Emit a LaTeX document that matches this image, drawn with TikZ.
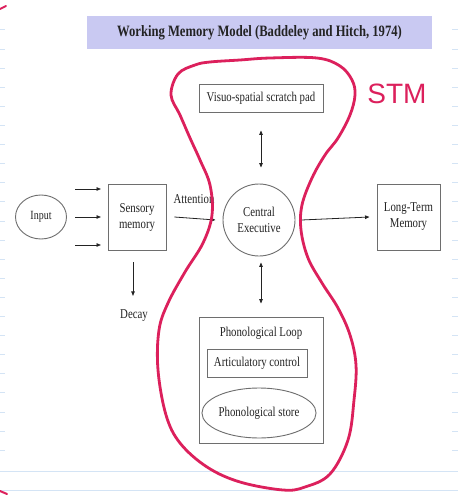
\documentclass[tikz,border=0pt]{standalone}
\usepackage{fontspec}
\setmainfont[FakeStretch=0.8]{Liberation Serif}
\newfontfamily\stmfont{Liberation Sans}
\usetikzlibrary{arrows.meta,shapes.geometric,calc}
\definecolor{lav}{RGB}{201,201,242}
\definecolor{boxgray}{RGB}{110,110,110}
\definecolor{txt}{RGB}{35,35,35}
\definecolor{pen}{RGB}{220,32,92}
\definecolor{rule}{RGB}{212,228,245}
\tikzset{
  body/.style={font=\fontsize{13.5}{15}\selectfont, text=txt},
  sqbox/.style={draw=boxgray, line width=0.9pt, rectangle, inner sep=0pt, body, align=center},
  roundbox/.style={draw=boxgray, line width=0.9pt, ellipse, inner sep=0pt, body, align=center},
  arr/.style={draw=txt, line width=0.8pt, -{Triangle[length=4.5pt,width=3.5pt]}},
  darr/.style={draw=txt, line width=0.8pt, {Triangle[length=4.5pt,width=3.5pt]}-{Triangle[length=4.5pt,width=3.5pt]}},
  label/.style={body, inner sep=0pt},
  ruleline/.style={draw=rule, line width=1pt},
}
\begin{document}
\begin{tikzpicture}[x=1pt,y=-1pt]
\useasboundingbox (0,0) rectangle (458,500);
\fill[white] (0,0) rectangle (458,500);
% notebook rules
\foreach \k in {0,...,22}{
  \draw[ruleline] (0,{30+19.1*\k}) -- (5,{30+19.1*\k});
  \draw[ruleline] (452,{30+19.1*\k}) -- (458,{30+19.1*\k});
}
\draw[ruleline] (0,471) -- (458,471);
\draw[ruleline] (0,490) -- (458,490);
% title
\node[fill=lav, minimum width=345pt, minimum height=33pt, inner sep=0pt,
      font=\bfseries\fontsize{15.8}{17}\selectfont, text=txt] (title) at (259.5,32.5)
      {Working Memory Model (Baddeley and Hitch, 1974)};
% nodes
\node[sqbox, minimum width=124pt, minimum height=28pt] (vsp) at (261,98) {Visuo-spatial scratch pad};
\node[draw=boxgray, line width=0.9pt, circle, minimum size=72pt, inner sep=0pt, body, align=center] (ce) at (259,220) {Central\\[1pt]Executive};
\node[sqbox, minimum width=124pt, minimum height=126pt] (pl) at (261,380) {};
\node[label] (plt) at (261,333) {Phonological Loop};
\node[sqbox, minimum width=100pt, minimum height=28pt] (ac) at (257,363) {Articulatory control};
\node[roundbox, minimum width=112pt, minimum height=50pt] (ps) at (259,413) {Phonological store};
\node[roundbox, minimum width=51pt, minimum height=44pt, font=\fontsize{12.5}{14}\selectfont] (inp) at (41,217) {Input};
\node[sqbox, minimum width=58pt, minimum height=66pt] (sm) at (137,217) {Sensory\\[1pt]memory};
\node[sqbox, minimum width=63pt, minimum height=66pt] (ltm) at (408.5,217) {Long-Term\\[1pt]Memory};
\node[label] (att) at (194,199) {Attention};
\node[label] (dec) at (134,316) {Decay};
% input arrows
\coordinate (a1s) at (75,189); \coordinate (a1e) at (101,189);
\coordinate (a2s) at (75,217); \coordinate (a2e) at (101,217);
\coordinate (a3s) at (75,245); \coordinate (a3e) at (101,245);
\draw[arr] (a1s) -- (a1e);
\draw[arr] (a2s) -- (a2e);
\draw[arr] (a3s) -- (a3e);
% other connectors
\draw[arr] ([xshift=8pt]sm.east) -- ([xshift=-7pt]ce.west);
\draw[arr] ([xshift=6pt]ce.east) -- ([xshift=-7pt]ltm.west);
\draw[darr] ([yshift=-18pt]vsp.south) -- ([yshift=16pt]vsp.south |- ce.north);
\draw[darr] ([yshift=-6pt]vsp.south |- ce.south) -- ([yshift=13pt]pl.north);
\draw[arr] ([xshift=-4pt,yshift=-12pt]sm.south) -- ([xshift=-4pt,yshift=14pt]sm.south |- dec.north);
% red hand-drawn outline
\draw[pen, line width=2.8pt, line join=round] plot[smooth cycle, tension=0.6] coordinates {
 (178,74) (195,65) (210,62) (240,60) (270,58) (317,58) (340,66) (352,80) (355,95)
 (350,115) (338,138) (325,155) (312,178) (302,205) (301,230) (308,258) (322,283)
 (338,308) (350,335) (356,365) (354,400) (348,440) (330,474) (305,487) (283,490)
 (240,482) (207,467) (180,443) (166,415) (158,370) (159,330) (168,303) (185,272)
 (203,243) (212,215) (210,185) (200,160) (190,138) (180,115) (171,95)};
\node[text=pen, font=\stmfont\fontsize{28}{30}\selectfont, inner sep=0pt] (stm) at (397,94) {STM};
% stray pen marks at the left edge
\draw[pen, line width=2pt, line cap=round] (0,9) -- (6,6);
\draw[pen, line width=2pt, line cap=round] (0,491) -- (7,494);
\end{tikzpicture}
\end{document}
